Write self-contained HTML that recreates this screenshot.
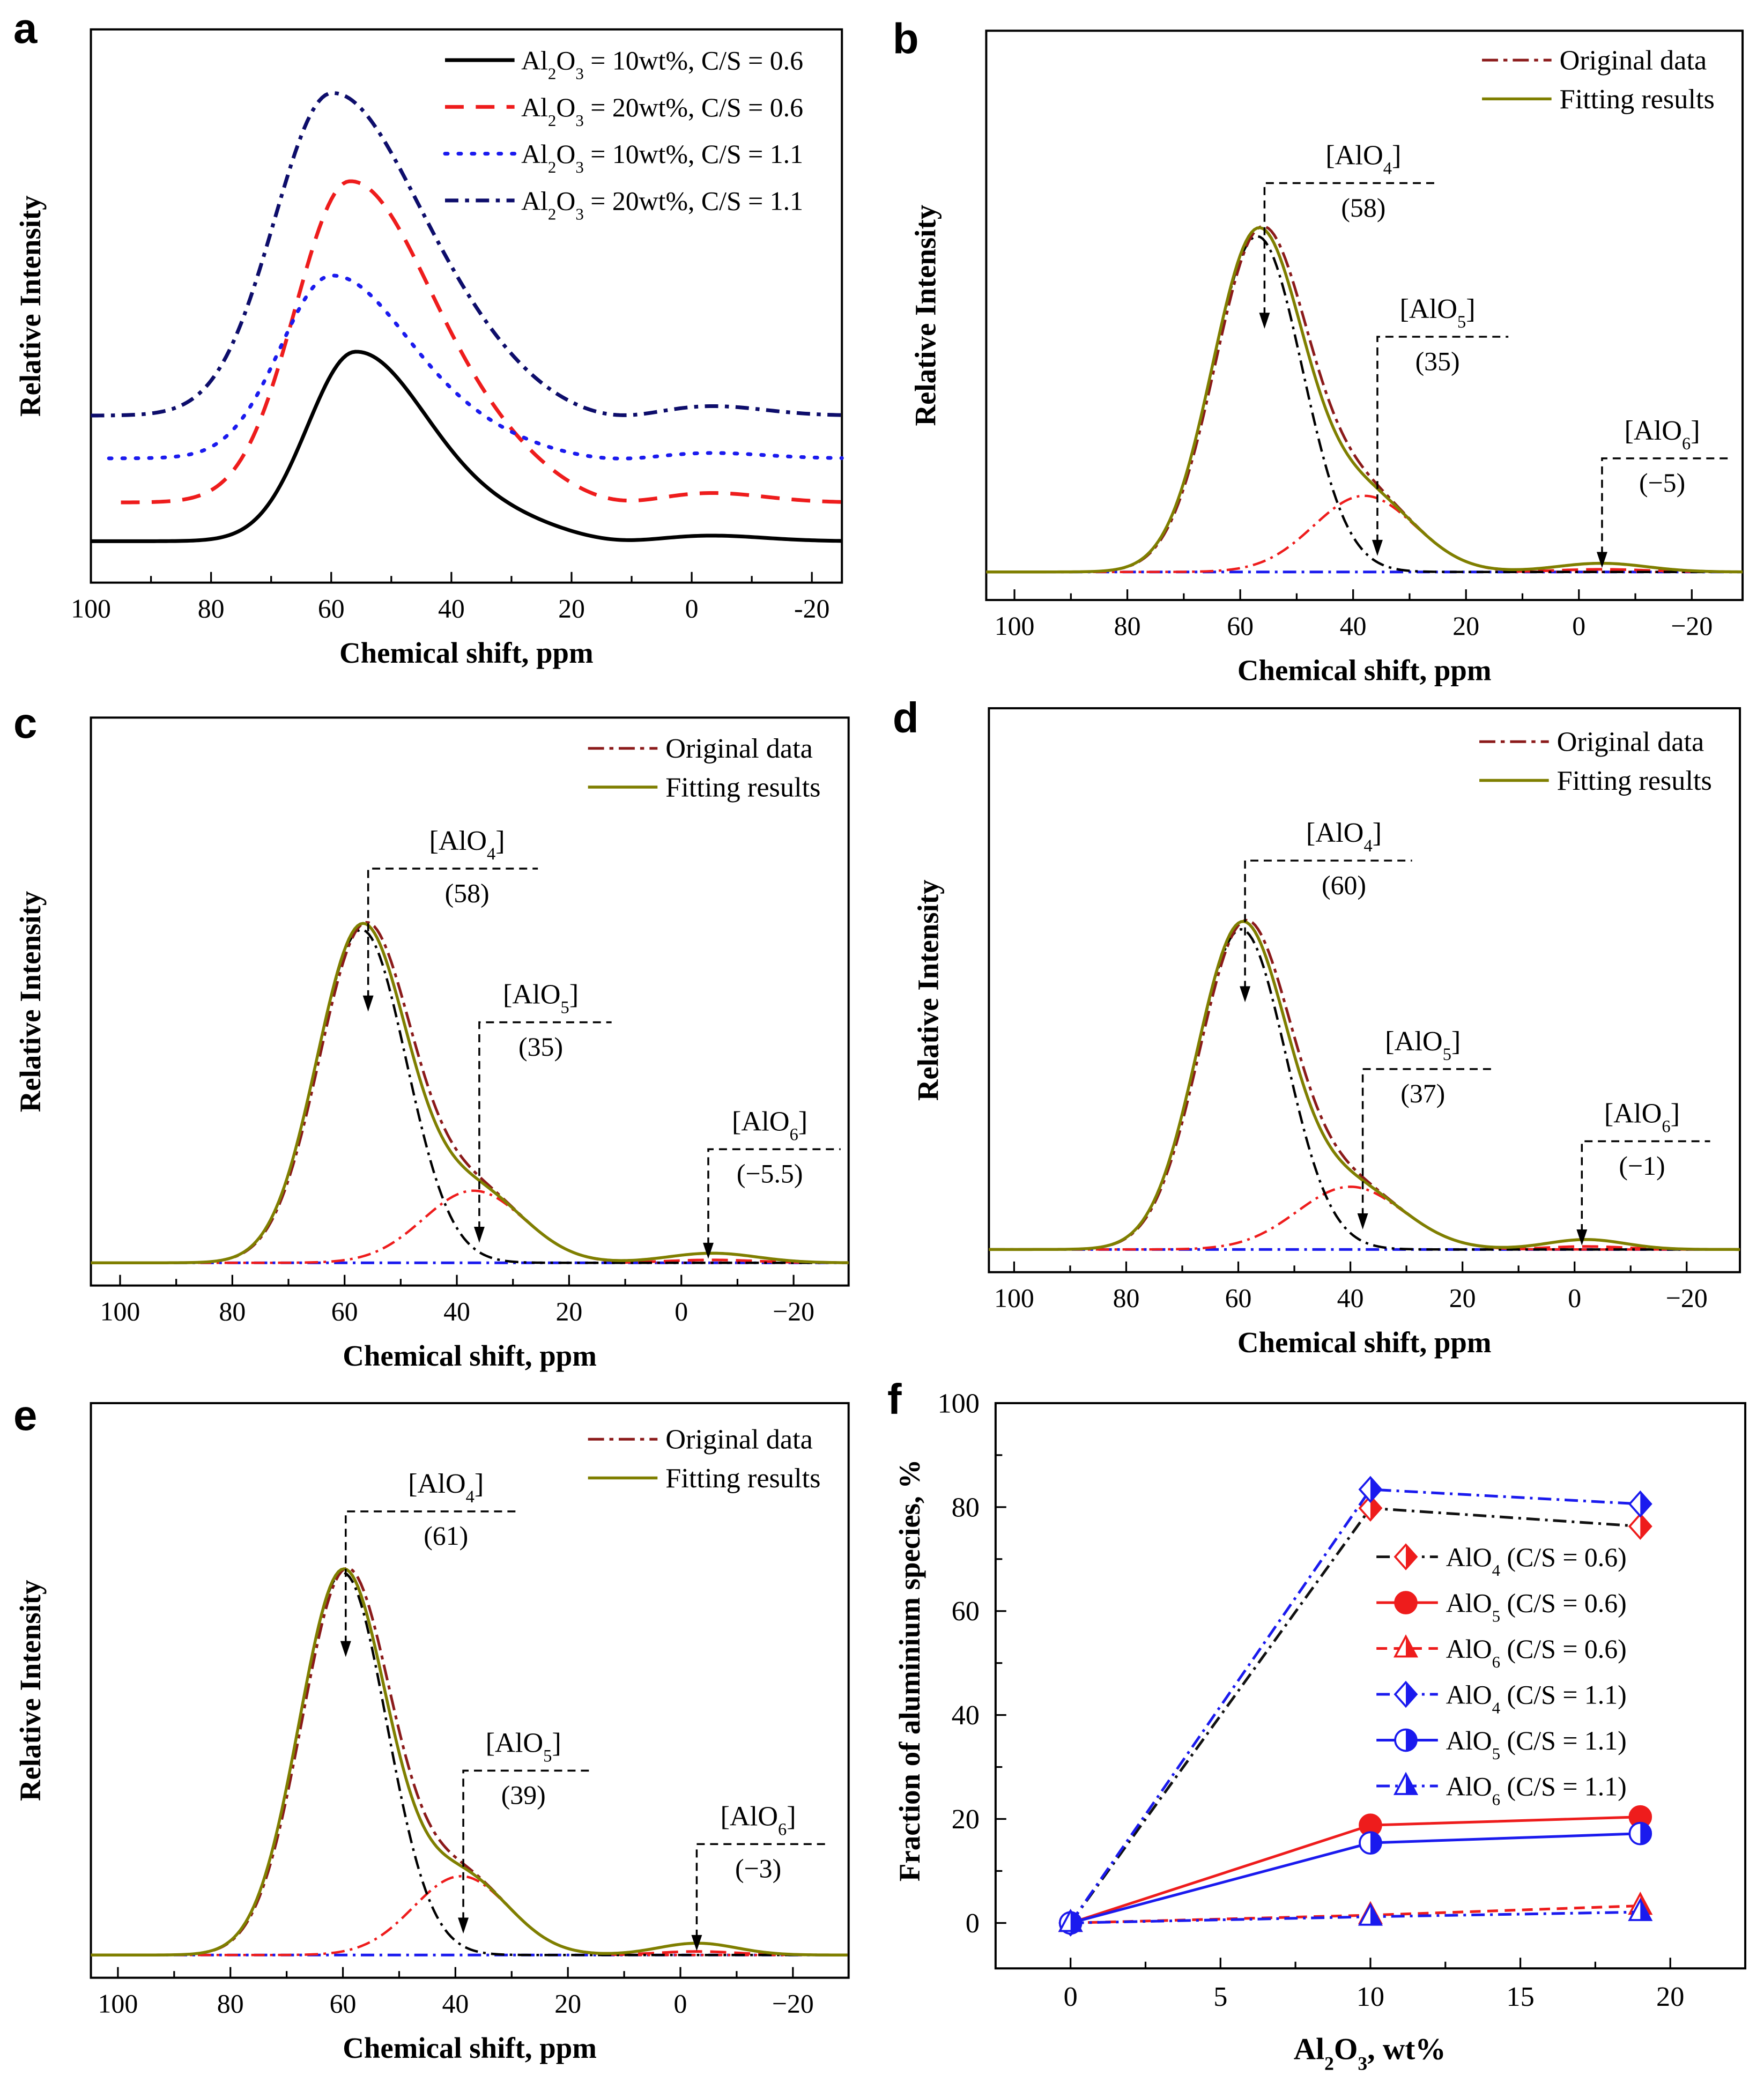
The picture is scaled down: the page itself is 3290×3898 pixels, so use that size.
<!DOCTYPE html>
<html><head><meta charset="utf-8">
<style>
html,body{margin:0;padding:0;background:#fff;}
svg{display:block;}
text{font-family:"Liberation Serif",serif;}
.lt{font-family:"Liberation Sans",sans-serif;font-weight:bold;}
</style></head>
<body>
<svg id="fig" xmlns="http://www.w3.org/2000/svg" width="3290" height="3898" viewBox="0 0 1320 1564"></svg>
<script>
// ---------- DATA ----------
const aSeries = ["Al2O3 = 10wt%, C/S = 0.6","Al2O3 = 20wt%, C/S = 0.6","Al2O3 = 10wt%, C/S = 1.1","Al2O3 = 20wt%, C/S = 1.1"];
const aPeakPpm = [56, 57, 60, 60];
const aHeight = [141, 239, 136, 240];
const aBaseline = [405, 376, 343, 311];
const aWidth = [8, 9, 8.5, 9.5];
const aStart = [100, 95, 97, 100];
const fitPanels = ["b","c","d","e"];
const alo4Center = [57, 57, 59.5, 60];
const alo4Amp = [0.97, 0.97, 0.97, 0.97];
const alo4Sigma = [8, 8, 8, 7.8];
const alo5Center = [38, 37, 40, 39];
const alo5Amp = [0.22, 0.21, 0.19, 0.2];
const alo5Sigma = [9, 9, 9.5, 8.5];
const alo6Center = [-4, -5.5, -2, -3];
const alo6Amp = [0.025, 0.028, 0.03, 0.03];
const alo6Sigma = [8, 8, 7, 7];
const annAlO4 = ["(58)","(58)","(60)","(61)"];
const annAlO5 = ["(35)","(35)","(37)","(39)"];
const annAlO6 = ["(\u22125)","(\u22125.5)","(\u22121)","(\u22123)"];
const fX = [0, 10, 19];
const fSeriesNames = ["AlO4 (C/S = 0.6)","AlO5 (C/S = 0.6)","AlO6 (C/S = 0.6)","AlO4 (C/S = 1.1)","AlO5 (C/S = 1.1)","AlO6 (C/S = 1.1)"];
const fAlO4_06 = [0, 79.8, 76.3];
const fAlO5_06 = [0, 18.8, 20.4];
const fAlO6_06 = [0, 1.5, 3.3];
const fAlO4_11 = [0, 83.4, 80.6];
const fAlO5_11 = [0, 15.4, 17.2];
const fAlO6_11 = [0, 1.2, 2.1];
const fYTicks = [0, 20, 40, 60, 80, 100];
const fXTicks = [0, 5, 10, 15, 20];
const ppmTicks = [100, 80, 60, 40, 20, 0, -20];

// ---------- helpers ----------
const NS = "http://www.w3.org/2000/svg";
const svg = document.getElementById("fig");
function mk(tag, attrs, parent){
  const e = document.createElementNS(NS, tag);
  for (const k in attrs) e.setAttribute(k, attrs[k]);
  (parent||svg).appendChild(e); return e;
}
function g(c,s,x){return Math.exp(-0.5*((x-c)/s)**2);}
function lin(d0,d1,r0,r1){return v=>r0+(v-d0)*(r1-r0)/(d1-d0);}
function pathFrom(pts){return pts.map((p,i)=>(i?"L":"M")+p[0].toFixed(2)+","+p[1].toFixed(2)).join("");}
function fmtTick(v){return v<0?"\u2212"+(-v):String(v);}

function frameAndTicks(P, grp, minus){
  const r = mk("rect",{x:P.x0,y:P.y0,width:P.x1-P.x0,height:P.y1-P.y0,fill:"none",stroke:"#000","stroke-width":1.6},grp);
  
  
  for(let v=100; v>=-30; v-=10){
    const X=P.sx(v); if(X<P.x0+1||X>P.x1-1) continue;
    const major = v%20===0;
    const t = mk("line",{x1:X,x2:X,y1:P.y1,y2:P.y1-(major?8:5),stroke:"#000","stroke-width":1.3},grp);
    
    
  }
  ppmTicks.forEach(v=>{
    const t = mk("text",{x:P.sx(v),y:P.y1+26,"text-anchor":"middle","font-size":20},grp);
    t.textContent = minus?fmtTick(v):String(v);
    
    
  });
  const xl = mk("text",{x:(P.x0+P.x1)/2,y:P.y1+60,"text-anchor":"middle","font-size":22,"font-weight":"bold"},grp);
  xl.textContent="Chemical shift, ppm";
  
  
  const yl = mk("text",{x:0,y:0,"text-anchor":"middle","font-size":22,"font-weight":"bold",transform:`translate(${P.x0-38},${(P.y0+P.y1)/2}) rotate(-90)`},grp);
  yl.textContent="Relative Intensity";
  
  
  const L = mk("text",{x:P.lx,y:P.ly,"font-size":32,class:"lt"},grp);
  L.textContent=P.letter;
  
  
}
function subText(parent, x, y, parts, size, anchor){
  const t = mk("text",{x:x,y:y,"font-size":size,"text-anchor":anchor||"start"},parent);
  parts.forEach(p=>{
    const ts = mk("tspan",p[1]?{"baseline-shift":"sub","font-size":size*0.62}:{},t);
    ts.textContent=p[0];
  });
  return t;
}

// ---------- panel a ----------
(function(){
  const P={x0:68,x1:630,y0:22,y1:436,letter:"a",lx:10,ly:32};
  P.sx = lin(100,-25,P.x0,P.x1);
  const grp = mk("g",{});
  
  
  frameAndTicks(P,grp,false);
  const styles=[{c:"#000",d:"",w:2.8},{c:"#ee1c1c",d:"14 9",w:2.8},{c:"#1a1aee",d:"2 8",w:2.8},{c:"#0d0d6b",d:"10 5 3 5",w:2.8}];
  aSeries.forEach((name,i)=>{
    const pts=[];
    for(let v=aStart[i]; v>=-25; v-=0.5){
      const s = v>aPeakPpm[i]?aWidth[i]:aWidth[i]*1.5;
      const y = g(aPeakPpm[i],s,v) + 0.1*g(aPeakPpm[i]-24,10,v) + 0.03*g(-3,9,v) - 0.015*g(12,6,v);
      pts.push([P.sx(v), aBaseline[i]-aHeight[i]*y]);
    }
    const p = mk("path",{d:pathFrom(pts),fill:"none",stroke:styles[i].c,"stroke-width":styles[i].w,"stroke-dasharray":styles[i].d,"stroke-linecap":i==2?"round":"butt"},grp);
    
    
    const ly = 45+35*i;
    const l = mk("line",{x1:333,x2:385,y1:ly,y2:ly,stroke:styles[i].c,"stroke-width":styles[i].w,"stroke-dasharray":styles[i].d,"stroke-linecap":i==2?"round":"butt"},grp);
    
    
    const parts = name.split(/Al2O3/);
    const t = subText(grp,390,ly+7,[["Al"],["2",1],["O"],["3",1],[parts[1]]],20);
    
    
  });
})();

// ---------- panels b-e ----------
const fitLayout = [
  {x0:738,x1:1304,y0:23,y1:449,pL:105,pR:-29,base:428,top:169,letter:"b",lx:668,ly:40,leg:45,
   a4:[55.7,137,246,127,74],a5:[35.7,252,416,98,45],a6:[-4.1,343,425,98,45]},
  {x0:68,x1:635,y0:537,y1:962,pL:105.2,pR:-29.8,base:945,top:688,letter:"c",lx:10,ly:552,leg:560,
   a4:[55.8,650,757,127,74],a5:[36,765,930,99,46],a6:[-4.8,860,942,99,46]},
  {x0:740,x1:1302,y0:530,y1:952,pL:104.5,pR:-29.5,base:935,top:688,letter:"d",lx:668,ly:548,leg:555,
   a4:[58.8,644,750,125,74],a5:[37.8,800,920,97,45],a6:[-1.3,854,932,96,45]},
  {x0:68,x1:635,y0:1050,y1:1480,pL:104.8,pR:-29.9,base:1463,top:1168,letter:"e",lx:10,ly:1070,leg:1077,
   a4:[59.5,1131,1240,127,75],a5:[38.6,1325,1447,97,45],a6:[-2.9,1380,1460,98,46]}
];
fitPanels.forEach((nm,k)=>{
  const P = Object.assign({},fitLayout[k]);
  P.sx = lin(P.pL,P.pR,P.x0,P.x1);
  const U = P.base-P.top;
  const grp = mk("g",{});
  
  
  frameAndTicks(P,grp,true);
  const c4=[],c5=[],c6=[],tot=[],org=[];
  for(let v=P.pL; v>=P.pR; v-=0.5){
    const X=P.sx(v);
    const y4=alo4Amp[k]*g(alo4Center[k],alo4Sigma[k],v);
    const y5=alo5Amp[k]*g(alo5Center[k],alo5Sigma[k],v);
    const y6=alo6Amp[k]*g(alo6Center[k],alo6Sigma[k],v);
    c4.push([X,P.base-U*y4]); c5.push([X,P.base-U*y5]);
    if(v<12 && v>-22) c6.push([X,P.base-U*y6*0.3]);
    tot.push([X,P.base-U*(y4+y5+y6)]);
    const yo = alo4Amp[k]*g(alo4Center[k]-0.6,alo4Sigma[k]*1.02,v)+y5+y6;
    org.push([X,P.base-U*yo]);
  }
  const bl = mk("line",{x1:P.x0+2,x2:P.x1-2,y1:P.base,y2:P.base,stroke:"#1a1aee","stroke-width":2,"stroke-dasharray":"10 4 2 4"},grp);
   
  const p6 = mk("path",{d:pathFrom(c6),fill:"none",stroke:"#ee1c1c","stroke-width":2,"stroke-dasharray":"12 6"},grp);
   
  const p5 = mk("path",{d:pathFrom(c5),fill:"none",stroke:"#ee1c1c","stroke-width":1.8,"stroke-dasharray":"10 4 2 4"},grp);
   
  const p4 = mk("path",{d:pathFrom(c4),fill:"none",stroke:"#000","stroke-width":1.8,"stroke-dasharray":"10 4 2 4"},grp);
   
  const po = mk("path",{d:pathFrom(org),fill:"none",stroke:"#8b1a1a","stroke-width":2,"stroke-dasharray":"12 4 3 4"},grp);
   
  const pt = mk("path",{d:pathFrom(tot),fill:"none",stroke:"#7f7f00","stroke-width":2.2},grp);
   
  const lx1=P.x1-195, lx2=P.x1-143;
  const l1 = mk("line",{x1:lx1,x2:lx2,y1:P.leg,y2:P.leg,stroke:"#8b1a1a","stroke-width":2,"stroke-dasharray":"12 4 3 4"},grp);
   
  const l2 = mk("line",{x1:lx1,x2:lx2,y1:P.leg+29,y2:P.leg+29,stroke:"#7f7f00","stroke-width":2.2},grp);
   
  const t1 = mk("text",{x:lx2+6,y:P.leg+7,"font-size":21},grp); t1.textContent="Original data";
   
  const t2 = mk("text",{x:lx2+6,y:P.leg+36,"font-size":21},grp); t2.textContent="Fitting results";
   
  [[P.a4,"4",annAlO4[k]],[P.a5,"5",annAlO5[k]],[P.a6,"6",annAlO6[k]]].forEach(([a,sub,val])=>{
    const X=P.sx(a[0]);
    const br = mk("path",{d:`M${X},${a[2]-10}L${X},${a[1]}L${X+a[3]},${a[1]}`,fill:"none",stroke:"#000","stroke-width":1.4,"stroke-dasharray":"6 4"},grp);
     
    const ar = mk("path",{d:`M${X-4},${a[2]-12}L${X+4},${a[2]-12}L${X},${a[2]}Z`,fill:"#000"},grp);
     
    const tl = subText(grp,X+a[4],a[1]-14,[["[AlO"],[sub,1],["]"]],21,"middle");
     
    const tv = mk("text",{x:X+a[4],y:a[1]+25,"font-size":20,"text-anchor":"middle"},grp);
    tv.textContent=val;
     
  });
});

// ---------- panel f ----------
(function(){
  const P={x0:745,x1:1306,y0:1050,y1:1473};
  const sx=lin(-2.5,22.5,P.x0,P.x1), sy=lin(0,100,1439,1050);
  const grp = mk("g",{});
  
  
  const r = mk("rect",{x:P.x0,y:P.y0,width:P.x1-P.x0,height:P.y1-P.y0,fill:"none",stroke:"#000","stroke-width":1.6},grp);
   
  for(let v=-10; v<=100; v+=10){
    const Y=sy(v); if(Y>P.y1-1||Y<P.y0+1) continue;
    const t = mk("line",{x1:P.x0,x2:P.x0+(v%20===0?8:5),y1:Y,y2:Y,stroke:"#000","stroke-width":1.3},grp);
     
  }
  fYTicks.forEach(v=>{
    const t = mk("text",{x:P.x0-12,y:sy(v)+7,"text-anchor":"end","font-size":21},grp); t.textContent=v;
     
  });
  for(let v=0; v<=22.5; v+=2.5){
    const X=sx(v);
    const t = mk("line",{x1:X,x2:X,y1:P.y1,y2:P.y1-(v%5===0?8:5),stroke:"#000","stroke-width":1.3},grp);
     
  }
  fXTicks.forEach(v=>{
    const t = mk("text",{x:sx(v),y:1501,"text-anchor":"middle","font-size":21},grp); t.textContent=v;
     
  });
  const xl = subText(grp,1025,1541,[["Al"],["2",1],["O"],["3",1],[", wt%"]],23,"middle");
  xl.setAttribute('font-weight','bold');
   
  const yl = mk("text",{x:0,y:0,"text-anchor":"middle","font-size":22,"font-weight":"bold",transform:`translate(688,1250) rotate(-90)`},grp);
  yl.textContent="Fraction of aluminium species, %";
   
  const L = mk("text",{x:664,y:1058,"font-size":32,class:"lt"},grp); L.textContent="f";
   

  const series=[fAlO4_06,fAlO5_06,fAlO6_06,fAlO4_11,fAlO5_11,fAlO6_11];
  const lineCol=["#111","#ee1c1c","#ee1c1c","#1a1aee","#1a1aee","#1a1aee"];
  const mCol=["#ee1c1c","#ee1c1c","#ee1c1c","#1a1aee","#1a1aee","#1a1aee"];
  const dash=["10 4 2 4","","8 5","10 4 2 4","","10 4 2 4"];
  const shape=["d","c","t","d","c","t"];
  function marker(x,y,s,col,name,full){
    let outline, half;
    if(s==="d"){outline=`M${x},${y-9}L${x+8},${y}L${x},${y+9}L${x-8},${y}Z`;half=`M${x},${y-9}L${x+8},${y}L${x},${y+9}Z`;}
    else if(s==="t"){outline=`M${x},${y-9}L${x+8},${y+6}L${x-8},${y+6}Z`;half=`M${x},${y-9}L${x+8},${y+6}L${x},${y+6}Z`;}
    else {outline=`M${x-8},${y}A8,8 0 1,0 ${x+8},${y}A8,8 0 1,0 ${x-8},${y}Z`;half=`M${x},${y-8}A8,8 0 0,1 ${x},${y+8}Z`;}
    const o = mk("path",{d:outline,fill:full?col:"#fff",stroke:col,"stroke-width":1.5},grp);
     
    const h = mk("path",{d:half,fill:col},grp);
     
  }
  series.forEach((vals,i)=>{
    const pts = fX.map((xv,j)=>[sx(xv),sy(vals[j])]);
    const p = mk("path",{d:pathFrom(pts),fill:"none",stroke:lineCol[i],"stroke-width":2,"stroke-dasharray":dash[i]},grp);
     
    pts.forEach(pt=>marker(pt[0],pt[1],shape[i],mCol[i],'data-marker',i===1));
  });
  fSeriesNames.forEach((nm,i)=>{
    const y=1165+34.3*i;
    const l = mk("line",{x1:1030,x2:1076,y1:y,y2:y,stroke:lineCol[i],"stroke-width":2,"stroke-dasharray":dash[i]},grp);
     
    marker(1052,y,shape[i],mCol[i],'legend-marker',i===1);
    const sub = nm.charAt(3);
    const t = subText(grp,1082,y+7,[["AlO"],[sub,1],[nm.slice(4)]],20);
     
  });
})();
</script>
</body></html>
